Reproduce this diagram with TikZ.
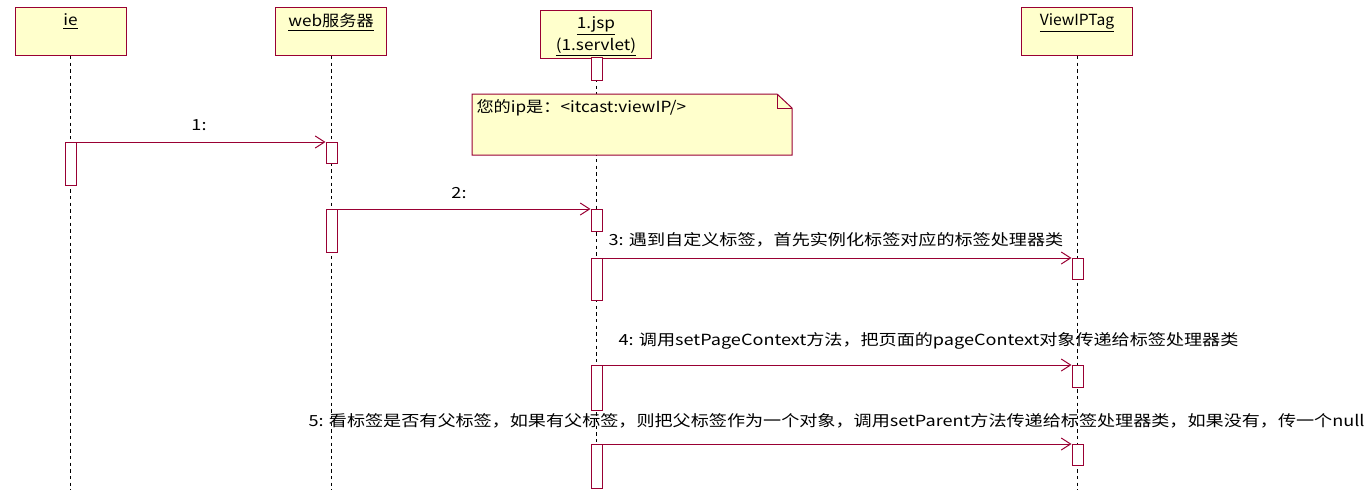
\documentclass[tikz,border=0pt]{standalone}
\usepackage{fontspec}
\setmainfont{Noto Sans CJK SC}
\usepackage{graphicx}
\usetikzlibrary{arrows.meta,positioning}

\definecolor{umlred}{RGB}{153,0,51}
\definecolor{umlyellow}{RGB}{255,255,204}
\newcommand{\wtxt}[1]{\scalebox{1.12}[1]{#1}}
\newcommand{\mtxt}[1]{\scalebox{1.18}[1]{#1}}

\tikzset{every picture/.style={line width=0.75pt}}
\tikzset{
	obj/.style={draw=umlred, fill=umlyellow, minimum width=83.25pt, minimum height=36pt, inner sep=0pt, anchor=north},
	objtext/.style={anchor=north, yshift=-1.5pt, align=center, font=\fontsize{11.5}{16.5}\selectfont},
	act/.style={draw=umlred, fill=white, minimum width=8.25pt, inner sep=0pt, anchor=north},
	life/.style={dash pattern=on 2.5pt off 2.5pt, line width=0.6pt},
	msg/.style={draw=umlred, -{Straight Barb[length=7pt,width=9pt]}},
	notebox/.style={draw=umlred, fill=umlyellow},
	lbl/.style={font=\fontsize{11.5}{16.5}\selectfont, inner sep=0pt},
}

\begin{document}
\begin{tikzpicture}[x=0.75pt,y=0.75pt,yscale=-1,xscale=1]
	%set diagram size to 1371 x 490
	\useasboundingbox (0,0) rectangle (1371,490);

	%Objects
	\node[obj, label={[objtext]north:\wtxt{\underline{ie}}}] (ie) at (70.5,7) {};
	\node[obj, label={[objtext]north:\wtxt{\underline{web服务器}}}] (web) at (331,7) {};
	\node[obj, label={[objtext]north:\wtxt{\underline{1.jsp}}\\\wtxt{\underline{(1.servlet)}}}] (jsp) at (596,10) {};
	\node[obj, label={[objtext]north:\scalebox{1.02}[1]{\underline{ViewIPTag}}}] (tag) at (1077,7) {};

	%Lifelines
	\draw[life] (ie.south) -- (ie.south |- 0,490);
	\draw[life] (web.south) -- (web.south |- 0,490);
	\draw[life] (jsp.south) -- (jsp.south |- 0,490);
	\draw[life] (tag.south) -- (tag.south |- 0,490);

	%Shape: Note
	\draw[notebox] (472,94) -- (777,94) -- (792,108) -- (792,155) -- (472,155) -- cycle;
	\draw[umlred] (777,94) -- (777,108) -- (792,108);
	% Text Node
	\node[lbl, anchor=west] (notetxt) at (476,108) {\wtxt{您的ip是：<itcast:viewIP/>}};

	%Activations
	\node[act, minimum height=17.25pt] (jact0) at (596.5,57) {};
	\node[act, minimum height=32.25pt] (ieact) at (70.5,142) {};
	\node[act, minimum height=15.75pt] (wact1) at (331.5,142) {};
	\node[act, minimum height=32.25pt] (wact2) at (331.5,209) {};
	\node[act, minimum height=16.5pt] (jact2) at (596.5,209) {};
	\node[act, minimum height=31.5pt] (jact3) at (596.5,258) {};
	\node[act, minimum height=15.75pt] (tact3) at (1077.5,258) {};
	\node[act, minimum height=33.75pt] (jact4) at (596.5,365) {};
	\node[act, minimum height=16.5pt] (tact4) at (1077.5,365) {};
	\node[act, minimum height=33pt] (jact5) at (596.5,444) {};
	\node[act, minimum height=15.75pt] (tact5) at (1077.5,444) {};

	%Messages
	\draw[msg] (ieact.north east) -- (wact1.north west);
	\draw[msg] (wact2.north east) -- (jact2.north west);
	\draw[msg] (jact3.north east) -- (tact3.north west);
	\draw[msg] (jact4.north east) -- (tact4.north west);
	\draw[msg] (jact5.north east) -- (tact5.north west);

	% Text Node
	\node[lbl] (m1) at (199,125) {\mtxt{1:}};
	% Text Node
	\node[lbl] (m2) at (459,193) {\mtxt{2:}};
	% Text Node
	\node[lbl, anchor=west] (m3) at (608,240) {\mtxt{3: 遇到自定义标签，首先实例化标签对应的标签处理器类}};
	% Text Node
	\node[lbl, anchor=west] (m4) at (618,341) {\mtxt{4: 调用setPageContext方法，把页面的pageContext对象传递给标签处理器类}};
	% Text Node
	\node[lbl, anchor=west] (m5) at (308,421) {\mtxt{5: 看标签是否有父标签，如果有父标签，则把父标签作为一个对象，调用setParent方法传递给标签处理器类，如果没有，传一个null}};
\end{tikzpicture}
\end{document}
